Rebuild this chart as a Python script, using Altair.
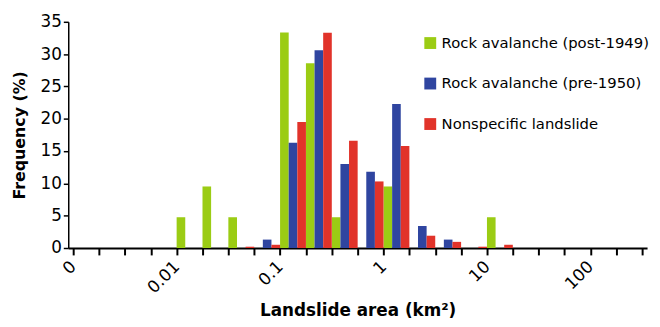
import altair as alt
import pandas as pd

# Bin index 0..21 (4 log bins per decade); edge labels at boundaries
edge_labels = {0: "0", 4: "0.01", 8: "0.1", 12: "1", 16: "10", 20: "100"}
n_bins = 22

series = ["Rock avalanche (post-1949)", "Rock avalanche (pre-1950)", "Nonspecific landslide"]
colors = ["#9BCC14", "#2F45A0", "#E1332A"]

post1949 = [0, 0, 0, 0, 4.76, 9.52, 4.76, 0, 33.33, 28.57, 4.76, 0, 9.52, 0, 0, 0, 4.76, 0, 0, 0, 0, 0]
pre1950 = [0, 0, 0, 0, 0, 0, 0, 1.3, 16.3, 30.6, 13.0, 11.8, 22.3, 3.4, 1.3, 0, 0, 0, 0, 0, 0, 0]
nonspecific = [0, 0, 0, 0, 0, 0, 0.2, 0.5, 19.5, 33.3, 16.6, 10.3, 15.8, 1.9, 0.95, 0.2, 0.5, 0, 0, 0, 0, 0]

rows = []
for k, (name, vals) in enumerate(zip(series, [post1949, pre1950, nonspecific])):
    for b, v in enumerate(vals):
        if v > 0:
            rows.append({"bin": b, "k": k, "series": name, "freq": v})
df = pd.DataFrame(rows)

label_expr = "{" + ",".join(f"'{k}':'{v}'" for k, v in edge_labels.items()) + "}[datum.value] || ''"

FONT = "DejaVu Sans"

chart = (
    alt.Chart(df)
    .transform_calculate(lo="datum.bin + datum.k/3", hi="datum.bin + (datum.k+1)/3")
    .mark_bar(orient="vertical")
    .encode(
        x=alt.X(
            "lo:Q",
            scale=alt.Scale(domain=[0, n_bins], nice=False, zero=False),
            axis=alt.Axis(
                values=list(range(n_bins + 1)),
                labelExpr=label_expr,
                labelAngle=-45,
                labelAlign="right",
                labelBaseline="middle",
                labelPadding=9,
                labelFontSize=17,
                labelFont=FONT,
                labelColor="black",
                tickSize=7,
                tickWidth=2,
                tickColor="black",
                domainColor="black",
                domainWidth=2,
                grid=False,
                title="Landslide area (km²)",
                titleFont=FONT,
                titleFontSize=17,
                titleFontWeight="bold",
                titleColor="black",
                titlePadding=7,
                labelOverlap=False,
            ),
        ),
        x2="hi:Q",
        y=alt.Y(
            "freq:Q",
            scale=alt.Scale(domain=[0, 35], nice=False),
            axis=alt.Axis(
                values=[0, 5, 10, 15, 20, 25, 30, 35],
                tickSize=5,
                tickWidth=1.5,
                tickColor="black",
                domainColor="black",
                domainWidth=1.5,
                labelFontSize=17,
                labelFont=FONT,
                labelColor="black",
                labelPadding=2,
                grid=False,
                title="Frequency (%)",
                titleFont=FONT,
                titleFontSize=16,
                titleFontWeight="bold",
                titleColor="black",
                titlePadding=13,
            ),
        ),
        y2=alt.Y2(datum=0),
        color=alt.Color(
            "series:N",
            scale=alt.Scale(domain=series, range=colors),
            legend=alt.Legend(
                orient="none",
                legendX=359,
                legendY=14,
                title=None,
                symbolType="square",
                symbolSize=144,
                symbolStrokeWidth=0,
                labelFont=FONT,
                labelFontSize=15,
                labelColor="black",
                labelLimit=0,
                rowPadding=25,
                labelOffset=4,
            ),
        ),
    )
    .properties(
        width=586,
        height=229,
        autosize=alt.AutoSizeParams(type="none"),
        padding={"left": 61, "top": 12, "right": 5, "bottom": 78},
    )
    .configure_view(stroke=None)
)

chart.save("out.html", embed_options={"renderer": "svg", "actions": False})
